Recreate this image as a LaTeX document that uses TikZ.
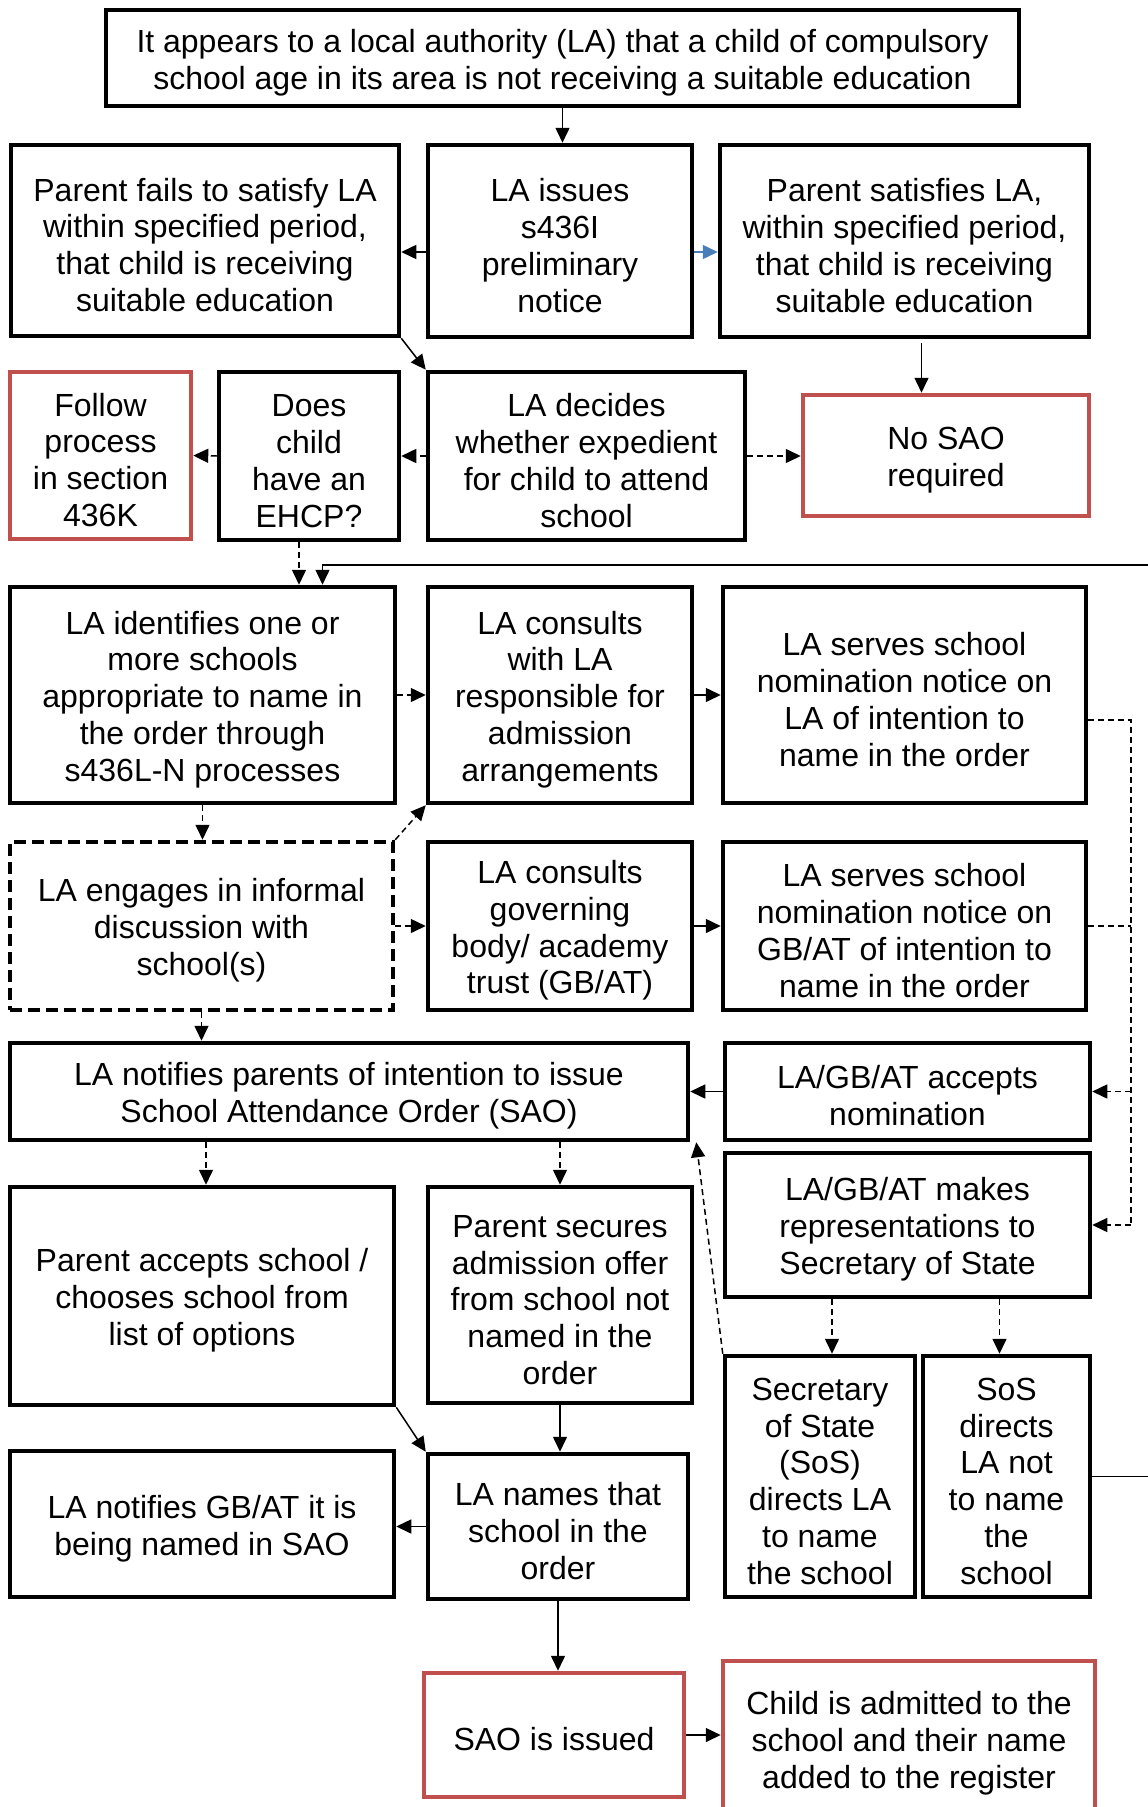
\documentclass[tikz,border=0pt]{standalone}
\usepackage{fontspec}
\setmainfont{Liberation Sans}
\usetikzlibrary{arrows.meta}

\definecolor{boxred}{HTML}{C0504D}
\definecolor{arrowblue}{HTML}{4A7EBB}

\newcommand{\ts}{\rule{0pt}{32pt}}

\tikzset{
   box/.style={draw, line width=4.5pt, align=center, inner sep=0pt,
      font=\fontsize{32}{36.8}\selectfont},
   redbox/.style={box, draw=boxred},
   dashbox/.style={box, dash pattern=on 12pt off 6pt},
   arr/.style={-{Triangle[length=15pt,width=14pt]}, line width=1.5pt},
   darr/.style={arr, dash pattern=on 6pt off 4pt},
   dline/.style={line width=1.5pt, dash pattern=on 6pt off 4pt}
}

\begin{document}
\begin{tikzpicture}[x=1pt, y=-1pt]
   \useasboundingbox (0,0) rectangle (1148,1807);

   \node[box, minimum width=913pt, minimum height=96pt] (top) at (562.5,58)
      {\ts It appears to a local authority (LA) that a child of compulsory\\school age in its area is not receiving a suitable education};
   \node[box, minimum width=388pt, minimum height=191pt] (fail) at (205,240.5)
      {\ts Parent fails to satisfy LA\\within specified period,\\that child is receiving\\suitable education};
   \node[box, minimum width=264pt, minimum height=192pt] (issues) at (560,241)
      {\ts LA issues\\s436I\\preliminary\\notice};
   \node[box, minimum width=369pt, minimum height=192pt] (satisfies) at (904.5,241)
      {\ts Parent satisfies LA,\\within specified period,\\that child is receiving\\suitable education};

   \node[redbox, minimum width=181pt, minimum height=167pt] (follow) at (100.5,455.5)
      {\ts Follow\\process\\in section\\436K};
   \node[box, minimum width=180pt, minimum height=168pt] (ehcp) at (309,456)
      {\ts Does\\child\\have an\\EHCP?};
   \node[box, minimum width=317pt, minimum height=168pt] (decides) at (586.5,456)
      {\ts LA decides\\whether expedient\\for child to attend\\school};
   \node[redbox, minimum width=286pt, minimum height=121pt] (nosao) at (946,455.5)
      {\ts No SAO\\required};

   \node[box, minimum width=385pt, minimum height=216pt] (identify) at (202.5,695)
      {\ts LA identifies one or\\more schools\\appropriate to name in\\the order through\\s436L-N processes};
   \node[box, minimum width=264pt, minimum height=216pt] (consultla) at (560,695)
      {\ts LA consults\\with LA\\responsible for\\admission\\arrangements};
   \node[box, minimum width=363pt, minimum height=216pt] (servela) at (904.5,695)
      {\ts LA serves school\\nomination notice on\\LA of intention to\\name in the order};

   \node[dashbox, minimum width=383pt, minimum height=168pt] (informal) at (201.5,926)
      {\ts LA engages in informal\\discussion with\\school(s)};
   \node[box, minimum width=264pt, minimum height=168pt] (consultgb) at (560,926)
      {\ts LA consults\\governing\\body/ academy\\trust (GB/AT)};
   \node[box, minimum width=363pt, minimum height=168pt] (servegb) at (904.5,926)
      {\ts LA serves school\\nomination notice on\\GB/AT of intention to\\name in the order};

   \node[box, minimum width=678pt, minimum height=97pt] (notifyp) at (349,1091.5)
      {\ts LA notifies parents of intention to issue\\School Attendance Order (SAO)};
   \node[box, minimum width=365pt, minimum height=97pt] (accepts) at (907.5,1091.5)
      {\ts LA/GB/AT accepts\\nomination};
   \node[box, minimum width=365pt, minimum height=144pt] (makes) at (907.5,1225)
      {\ts LA/GB/AT makes\\representations to\\Secretary of State};

   \node[box, minimum width=384pt, minimum height=218pt] (paccepts) at (202,1296)
      {\ts Parent accepts school /\\chooses school from\\list of options};
   \node[box, minimum width=264pt, minimum height=216pt] (psecures) at (560,1295)
      {\ts Parent secures\\admission offer\\from school not\\named in the\\order};
   \node[box, minimum width=190pt, minimum height=241pt] (sosdir) at (820,1476.5)
      {\ts Secretary\\of State\\(SoS)\\directs LA\\to name\\the school};
   \node[box, minimum width=167pt, minimum height=241pt] (sosnot) at (1006.5,1476.5)
      {\ts SoS\\directs\\LA not\\to name\\the\\school};

   \node[box, minimum width=384pt, minimum height=146pt] (notifygb) at (202,1524)
      {\ts LA notifies GB/AT it is\\being named in SAO};
   \node[box, minimum width=260pt, minimum height=145pt] (names) at (558,1526.5)
      {\ts LA names that\\school in the\\order};
   \node[redbox, minimum width=260pt, minimum height=124pt] (issued) at (554,1735)
      {\ts SAO is issued};
   \node[redbox, minimum width=372pt, minimum height=155pt] (child) at (909,1738.5)
      {\ts Child is admitted to the\\school and their name\\added to the register};

   \coordinate (loop) at (1170,565);
   \coordinate (rail) at (1131,1225);

   \draw[arr] (top.south) -- (top.south |- issues.north);
   \draw[arr] ([yshift=-11pt]issues.west) -- ([yshift=-11pt]issues.west -| fail.east);
   \draw[arr, draw=arrowblue, fill=arrowblue] ([yshift=-11pt]issues.east) -- ([yshift=-11pt]issues.east -| satisfies.west);
   \draw[arr] (fail.south east) -- (decides.north west);
   \draw[arr] ([xshift=17pt,yshift=-4pt]satisfies.south) -- ([xshift=17pt]satisfies.south |- nosao.north);

   \draw[darr] (decides.west) -- (ehcp.east);
   \draw[darr] (ehcp.west) -- (follow.east);
   \draw[darr] (decides.east) -- (decides.east -| nosao.west);
   \draw[darr] ([xshift=-10pt]ehcp.south) -- ([xshift=-10pt]ehcp.south |- identify.north);
   \draw[arr] (sosnot.east) -| (loop) -| ([xshift=120pt]identify.north);

   \draw[darr] (identify.east) -- (consultla.west);
   \draw[arr] (consultla.east) -- (servela.west);
   \draw[darr] (identify.south) -- (identify.south |- informal.north);
   \draw[darr] (informal.north east) -- (consultla.south west);
   \draw[darr] (informal.east) -- (consultgb.west);
   \draw[arr] (consultgb.east) -- (servegb.west);
   \draw[darr] (informal.south) -- (informal.south |- notifyp.north);

   \draw[dline] ([yshift=-25pt]servela.east) -| (rail);
   \draw[dline] (servegb.east) -- (servegb.east -| rail);
   \draw[darr] (accepts.east -| rail) -- (accepts.east);
   \draw[darr] (rail) -- (makes.east);
   \draw[arr] (accepts.west) -- (notifyp.east);

   \draw[darr] ([xshift=4pt]paccepts.north |- notifyp.south) -- ([xshift=4pt]paccepts.north);
   \draw[darr] (psecures.north |- notifyp.south) -- (psecures.north);
   \draw[darr] (sosdir.north west) -- ([xshift=6pt]notifyp.south east);
   \draw[darr] ([xshift=12pt]sosdir.north |- makes.south) -- ([xshift=12pt]sosdir.north);
   \draw[darr] ([xshift=-7pt]sosnot.north |- makes.south) -- ([xshift=-7pt]sosnot.north);

   \draw[arr] (paccepts.south east) -- (names.north west);
   \draw[arr] (psecures.south) -- (psecures.south |- names.north);
   \draw[arr] (names.west) -- (names.west -| notifygb.east);
   \draw[arr] (names.south) -- (names.south |- issued.north);
   \draw[arr] (issued.east) -- (issued.east -| child.west);
\end{tikzpicture}
\end{document}
